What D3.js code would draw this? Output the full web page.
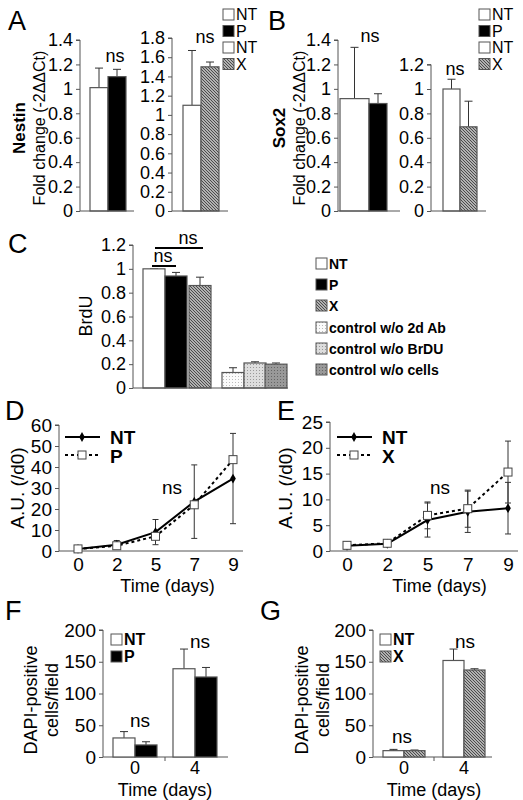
<!DOCTYPE html>
<html><head><meta charset="utf-8">
<script src="https://cdn.jsdelivr.net/npm/d3@7"></script>
<style>body{margin:0;background:#fff}svg{font-family:"Liberation Sans",Arial,sans-serif}</style>
</head><body><svg id="c" width="523" height="800"></svg>
<script>
// ---- data ----
const nestinGroups = ["NT","P"], nestinVals1 = [1.01,1.10], nestinErr1 = [0.16,0.06];
const nestinGroups2 = ["NT","X"], nestinVals2 = [1.10,1.50], nestinErr2 = [0.57,0.05];
const sox2Vals1 = [0.92,0.88], sox2Err1 = [0.42,0.08];
const sox2Vals2 = [1.00,0.69], sox2Err2 = [0.08,0.21];
const brduCats = ["NT","P","X","control w/o 2d Ab","control w/o BrDU","control w/o cells"];
const brduVals = [1.00,0.94,0.86,0.13,0.21,0.20], brduErr = [0,0.03,0.07,0.04,0.01,0.01];
const days = [0,2,5,7,9];
const dNT = [1,3,9,23.5,34.5], dNTerr = [0.5,2,6,17.5,21.5];
const dP = [1,2.5,7,22,43.5], dPerr = [0.5,1,1,1,1];
const eNT = [1,1.4,6,7.6,8.3], eNTerr = [0.5,0.5,3.3,4,5];
const eX = [1.1,1.5,6.9,8.2,15.3], eXerr = [0.6,0.6,2.6,3.6,6];
const fDays = ["0","4"];
const fNT = [30,139], fNTerr = [10,31], fP = [19,126], fPerr = [5,15];
const gNT = [10,152], gNTerr = [2,18], gX = [10,137], gXerr = [1,2];

const svg = d3.select("#c");
const defs = svg.append("defs");
function pat(id, bg, fg, kind){
  const p = defs.append("pattern").attr("id",id).attr("patternUnits","userSpaceOnUse").attr("width",3).attr("height",3);
  p.append("rect").attr("width",3).attr("height",3).attr("fill",bg);
  if(kind==="hatch") p.append("path").attr("d","M-1,2 L1,4 M0,0 L3,3 M2,-1 L4,1").attr("stroke",fg).attr("stroke-width",1.1);
  else p.append("rect").attr("x",1).attr("y",1).attr("width",1).attr("height",1).attr("fill",fg);
}
pat("hx","#ddd","#444","hatch");
pat("d1","#fafafa","#bbb","dot");
pat("d2","#ddd","#999","dot");
pat("d3","#999","#666","dot");
const fills = {NT:"#fff",P:"#000",X:"url(#hx)",c1:"url(#d1)",c2:"url(#d2)",c3:"url(#d3)"};

function letter(t,x,y){svg.append("text").attr("x",x).attr("y",y).attr("font-size",27).text(t);}
function ylabel(t,x,y,bold,size){svg.append("text").attr("transform",`translate(${x},${y}) rotate(-90)`).attr("text-anchor","middle").attr("font-size",size||16).attr("font-weight",bold?"bold":"normal").text(t);}
function txt(t,x,y,size,bold,anchor){svg.append("text").attr("x",x).attr("y",y).attr("font-size",size).attr("font-weight",bold?"bold":"normal").attr("text-anchor",anchor||"start").text(t);}

function yAxis(x, y, ticks, fmt, size){
  const g = svg.append("g").attr("transform",`translate(${x},0)`)
    .call(d3.axisLeft(y).tickValues(ticks).tickFormat(fmt).tickSize(4).tickPadding(3));
  g.selectAll("text").attr("font-size",size||18).attr("font-family","Liberation Sans, Arial");
  g.selectAll("path,line").attr("stroke","#555");
  g.select(".domain").attr("d",`M-4,${y(ticks[ticks.length-1])}H0V${y(0)}`);
  return g;
}
function baseline(x0,x1,yy){svg.append("line").attr("x1",x0).attr("x2",x1).attr("y1",yy).attr("y2",yy).attr("stroke","#555");}
function bars(xs, keys, vals, errs, y, widths){
  keys.forEach((k,i)=>{
    const x = xs(k), width = Array.isArray(widths)?widths[i]:widths;
    svg.append("line").attr("x1",x+width/2).attr("x2",x+width/2).attr("y1",y(vals[i])).attr("y2",y(vals[i]+errs[i])).attr("stroke","#333");
    svg.append("line").attr("x1",x+width/2-4).attr("x2",x+width/2+4).attr("y1",y(vals[i]+errs[i])).attr("y2",y(vals[i]+errs[i])).attr("stroke","#333");
    svg.append("rect").attr("x",x).attr("y",y(vals[i])).attr("width",width).attr("height",y(0)-y(vals[i]))
      .attr("fill",fills[k]).attr("stroke","#555").attr("stroke-width",1.2);
  });
}
function legendItem(k,x,y,label,size,bold){
  svg.append("rect").attr("x",x).attr("y",y-11).attr("width",11).attr("height",11).attr("fill",fills[k]).attr("stroke","#555");
  txt(label,x+13,y,size,bold);
}

// ---- Panel A ----
letter("A",8,30);
ylabel("Nestin",25,128,true,17); ylabel("Fold change (-2ΔΔCt)",45,128,false,16);
let yA = d3.scaleLinear().domain([0,1.4]).range([211,40]);
yAxis(80,yA,d3.range(0,1.41,0.2).map(v=>+v.toFixed(1)),d=>d===0?"0":d3.format("")(d));
let xA1 = d3.scaleOrdinal().domain(nestinGroups).range([90,108]);
bars(xA1,nestinGroups,nestinVals1,nestinErr1,yA,18); baseline(80,134,211);
txt("ns",115,62,18,false,"middle");
let yA2 = d3.scaleLinear().domain([0,1.8]).range([211,38]);
yAxis(172,yA2,d3.range(0,1.81,0.2).map(v=>+v.toFixed(1)),d=>d===0?"0":d3.format("")(d));
let xA2 = d3.scaleOrdinal().domain(nestinGroups2).range([183,201]);
bars(xA2,nestinGroups2,nestinVals2,nestinErr2,yA2,18); baseline(172,228,211);
txt("ns",205,43,18,false,"middle");
[["NT","NT"],["P","P"],["NT","NT"],["X","X"]].forEach((d,i)=>legendItem(d[0],223,20+i*16.5,d[1],16));

// ---- Panel B ----
letter("B",268,30);
ylabel("Sox2",285,128,true,17); ylabel("Fold change (-2ΔΔCt)",305,128,false,16);
yAxis(338,yA,d3.range(0,1.41,0.2).map(v=>+v.toFixed(1)),d=>d===0?"0":d3.format("")(d));
let xB1 = d3.scaleOrdinal().domain(nestinGroups).range([340,369]);
bars(xB1,nestinGroups,sox2Vals1,sox2Err1,yA,[29,18]); baseline(338,400,211);
txt("ns",370,42,18,false,"middle");
let yB2 = d3.scaleLinear().domain([0,1.2]).range([211,64.6]);
yAxis(431,yB2,d3.range(0,1.21,0.2).map(v=>+v.toFixed(1)),d=>d===0?"0":d3.format("")(d));
let xB2 = d3.scaleOrdinal().domain(nestinGroups2).range([443,460]);
bars(xB2,nestinGroups2,sox2Vals2,sox2Err2,yB2,17); baseline(431,486,211);
txt("ns",455,75,18,false,"middle");
[["NT","NT"],["P","P"],["NT","NT"],["X","X"]].forEach((d,i)=>legendItem(d[0],479,20+i*16.5,d[1],16));

// ---- Panel C ----
letter("C",8,253);
ylabel("BrdU",92,316,false,18);
let yC = d3.scaleLinear().domain([0,1.2]).range([388,245]);
yAxis(133,yC,d3.range(0,1.21,0.2).map(v=>+v.toFixed(1)),d=>d===0?"0":d3.format("")(d));
const cKeys=["NT","P","X","c1","c2","c3"];
let xC = d3.scaleOrdinal().domain(cKeys).range([143,165,189,222,244,265]);
bars(xC,cKeys,brduVals,brduErr,yC,22); baseline(133,288,388);
svg.append("line").attr("x1",155).attr("x2",203).attr("y1",248).attr("y2",248).attr("stroke","#000").attr("stroke-width",2);
svg.append("line").attr("x1",152).attr("x2",176).attr("y1",266).attr("y2",266).attr("stroke","#000").attr("stroke-width",2);
txt("ns",188,244,18,false,"middle"); txt("ns",163,262,18,false,"middle");
cKeys.forEach((k,i)=>legendItem(k,316,[269,290,311,333,354,375][i],brduCats[i],14,true));

// ---- Line panels ----
function linePanel(ax,yTop,yBot,max,step,xs,nt,nte,other,othe,otherName,legX,nsX){
  const y = d3.scaleLinear().domain([0,max]).range([yBot,yTop]);
  const x = d3.scalePoint().domain(days).range(xs);
  yAxis(ax,y,d3.range(0,max+0.1,step),d=>d,19);
  const gx = svg.append("g").attr("transform",`translate(0,${yBot})`).call(d3.axisBottom(x).tickSize(0).tickPadding(7));
  gx.selectAll("text").attr("font-size",19).attr("font-family","Liberation Sans, Arial");
  gx.select(".domain").attr("d",`M${ax},0H${xs[1]+10}`).attr("stroke","#555");
  const ln = d3.line().x((d,i)=>x(days[i])).y(d=>y(d));
  [[nt,nte],[other,othe]].forEach(([v,e])=>v.forEach((d,i)=>{
    const cx=x(days[i]);
    svg.append("path").attr("d",`M${cx-3},${y(d+e[i])}H${cx+3}M${cx},${y(d+e[i])}V${y(Math.max(0,d-e[i]))}M${cx-3},${y(Math.max(0,d-e[i]))}H${cx+3}`).attr("stroke","#333").attr("fill","none");
  }));
  svg.append("path").attr("d",ln(other)).attr("fill","none").attr("stroke","#000").attr("stroke-width",2).attr("stroke-dasharray","3,3");
  svg.append("path").attr("d",ln(nt)).attr("fill","none").attr("stroke","#000").attr("stroke-width",2);
  nt.forEach((d,i)=>svg.append("path").attr("d",d3.symbol(d3.symbolDiamond,28)()).attr("transform",`translate(${x(days[i])},${y(d)})`));
  other.forEach((d,i)=>svg.append("rect").attr("x",x(days[i])-4).attr("y",y(d)-4).attr("width",8).attr("height",8).attr("fill","#fff").attr("stroke","#444"));
  svg.append("line").attr("x1",legX).attr("x2",legX+35).attr("y1",437).attr("y2",437).attr("stroke","#000").attr("stroke-width",2);
  svg.append("path").attr("d",d3.symbol(d3.symbolDiamond,28)()).attr("transform",`translate(${legX+17},437)`);
  txt("NT",legX+45,444,19,true);
  svg.append("line").attr("x1",legX).attr("x2",legX+35).attr("y1",455).attr("y2",455).attr("stroke","#000").attr("stroke-width",2).attr("stroke-dasharray","3,3");
  svg.append("rect").attr("x",legX+13).attr("y",451).attr("width",8).attr("height",8).attr("fill","#fff").attr("stroke","#444");
  txt(otherName,legX+45,463,19,true);
  txt("ns",nsX,494,19,false,"middle");
  txt("Time (days)",(xs[0]+xs[1])/2+12,592,18,false,"middle");
}
letter("D",5,420); ylabel("A.U. (/d0)",24,488,false,19);
linePanel(59,425,551,60,10,[78,233],dNT,dNTerr,dP,dPerr,"P",65,172);
letter("E",277,420); ylabel("A.U. (/d0)",292,488,false,19);
linePanel(330,422,551,25,5,[347,508],eNT,eNTerr,eX,eXerr,"X",337,440);

// ---- Panels F, G ----
function cellPanel(ax,xEnd,x0s,w,nt,nte,oth,othe,ok,on,nsPos,legX){
  const y = d3.scaleLinear().domain([0,200]).range([757,630]);
  yAxis(ax,y,[0,50,100,150,200],d=>d,19);
  baseline(ax,xEnd,757);
  const gx = d3.scaleOrdinal().domain(fDays).range(x0s);
  fDays.forEach((d,i)=>{
    const xs = d3.scaleOrdinal().domain(["NT",ok]).range([gx(d),gx(d)+w]);
    bars(xs,["NT",ok],[nt[i],oth[i]],[nte[i],othe[i]],y,w);
    txt(d,gx(d)+w,774,18,false,"middle");
    txt("ns",nsPos[i][0],y(nsPos[i][1]),19,false,"middle");
  });
  svg.append("line").attr("x1",(x0s[0]+x0s[1])/2+w).attr("x2",(x0s[0]+x0s[1])/2+w).attr("y1",757).attr("y2",761).attr("stroke","#555");
  legendItem("NT",legX,645,"NT",16,true);
  legendItem(ok,legX,662,on,16,true);
  txt("Time (days)",(x0s[0]+x0s[1])/2+w,796,18,false,"middle");
}
letter("F",5,620); ylabel("DAPI-positive",37,700,false,18); ylabel("cells/field",58,700,false,18);
cellPanel(103,228,[113,173],22,fNT,fNTerr,fP,fPerr,"P","P",[[140,48],[200,172]],111);
letter("G",260,620); ylabel("DAPI-positive",308,700,false,18); ylabel("cells/field",329,700,false,18);
cellPanel(373,492,[383,443],21,gNT,gNTerr,gX,gXerr,"X","X",[[402,22],[465,172]],380);
</script></body></html>
